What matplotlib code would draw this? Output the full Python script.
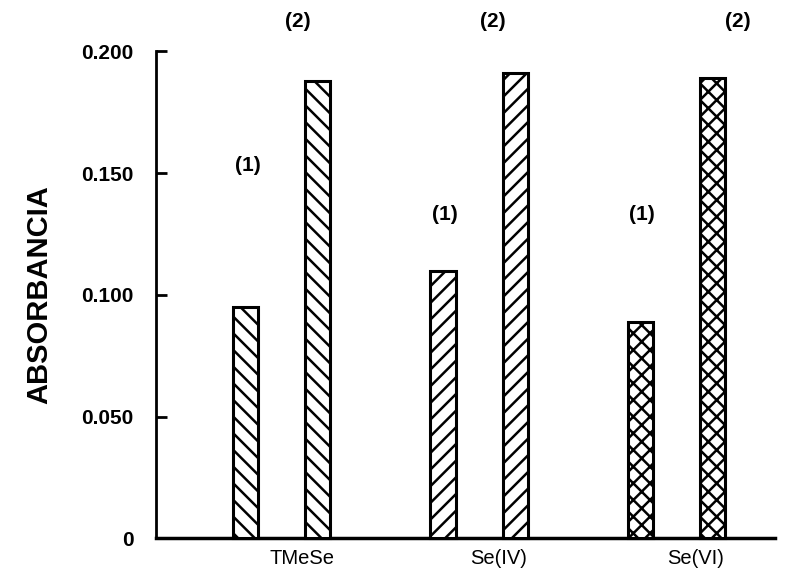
import numpy as np
import matplotlib.pyplot as plt

categories = ['TMeSe', 'Se(IV)', 'Se(VI)']
abs_1 = [0.095, 0.110, 0.089]
abs_2 = [0.188, 0.191, 0.189]
hatches = ['\\\\', '//', 'xx']
yticks = [0, 0.05, 0.10, 0.15, 0.20]
ytick_labels = ['0', '0.050', '0.100', '0.150', '0.200']

plt.rcParams['font.family'] = ['Liberation Sans', 'DejaVu Sans']
plt.rcParams['hatch.linewidth'] = 1.8

fig = plt.figure(figsize=(7.94, 5.85), dpi=100)
ax = fig.add_axes([0.196, 0.080, 0.780, 0.832])

x = np.arange(len(categories))
off = 0.183
w = 0.127
for i in range(len(categories)):
    ax.bar(x[i] - off, abs_1[i], w, facecolor='white', edgecolor='black',
           linewidth=2.2, hatch=hatches[i], clip_on=False, zorder=3)
    ax.bar(x[i] + off, abs_2[i], w, facecolor='white', edgecolor='black',
           linewidth=2.2, hatch=hatches[i], clip_on=False, zorder=3)

# the (1) and (2) labels above the bars
lab1_y = [0.153, 0.133, 0.133]
lab2_x = [0.08, 1.07, 2.31]
for i in range(len(categories)):
    ax.text(x[i] - off + 0.01, lab1_y[i], '(1)', ha='center', va='center',
            fontsize=15, fontweight='bold')
    ax.text(lab2_x[i], 0.2125, '(2)', ha='center', va='center',
            fontsize=15, fontweight='bold', clip_on=False)

ax.set_xlim(-0.64, 2.50)
ax.set_ylim(0, 0.2)
ax.set_xticks(x + 0.1)
ax.set_xticklabels(categories, fontsize=14.5)
ax.tick_params(axis='x', length=0, pad=8)
ax.set_yticks(yticks)
ax.set_yticklabels(ytick_labels, fontsize=15, fontweight='bold')
ax.tick_params(axis='y', direction='in', length=8, width=2, pad=16)

for s in ['top', 'right']:
    ax.spines[s].set_visible(False)
ax.spines['left'].set_linewidth(2)
ax.spines['bottom'].set_linewidth(2.5)

ax.set_ylabel('ABSORBANCIA', fontsize=21, fontweight='bold', labelpad=20)

fig.savefig('out.png', dpi=100)
